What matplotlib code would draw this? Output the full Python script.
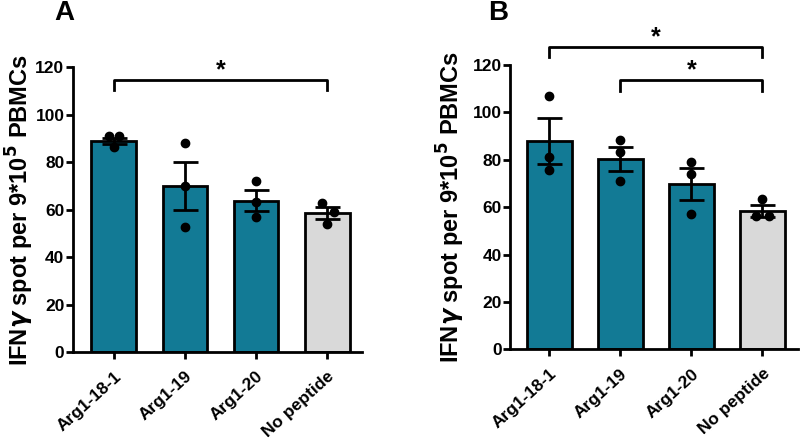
import matplotlib
matplotlib.use("Agg")
import matplotlib.pyplot as plt
import numpy as np

plt.rcParams['font.family'] = ['Liberation Sans', 'DejaVu Sans']
plt.rcParams['font.weight'] = 'bold'

categories = ["Arg1-18-1", "Arg1-19", "Arg1-20", "No peptide"]

# Panel A
a_means = [89.0, 70.0, 63.8, 58.5]
a_sem = [1.2, 10.0, 4.3, 2.5]
a_points = [[91.0, 91.0, 86.5], [88.0, 70.0, 52.7], [72.0, 63.3, 57.0], [62.9, 59.1, 53.8]]

# Panel B
b_means = [87.8, 80.4, 69.8, 58.5]
b_sem = [9.6, 5.1, 6.7, 2.5]
b_points = [[106.9, 81.3, 75.7], [88.3, 83.1, 71.0], [78.9, 74.0, 57.1], [63.3, 56.2, 56.2]]

# styling / jitter (not data)
a_jit = [[-0.07, 0.07, 0.0], [0, 0, 0], [0, 0, 0], [-0.07, 0.09, 0.0]]
b_jit = [[0, 0, 0], [0, 0, 0], [0, 0, 0], [0.0, -0.09, 0.09]]

bar_colors = ["#127a95", "#127a95", "#127a95", "#d9d9d9"]

fig = plt.figure(figsize=(8, 4.44), dpi=100)
axA = fig.add_axes([0.091, 0.207, 0.3615, 0.642])
axB = fig.add_axes([0.6375, 0.213, 0.36, 0.641])


def draw(ax, means, sem, pts, jit, brackets, xlim, labx):
    x = np.arange(len(categories))
    ax.bar(x, means, width=0.63, color=bar_colors, edgecolor='black', linewidth=2, zorder=2)
    for i in range(len(categories)):
        ax.plot(np.array(jit[i]) + x[i], pts[i], 'o', color='black', ms=6, zorder=4)
    ax.errorbar(x, means, yerr=sem, fmt='none', ecolor='black', elinewidth=2,
                capsize=9, capthick=2, zorder=5)
    ax.set_ylim(0, 120)
    ax.set_xlim(*xlim)
    ax.set_yticks([0, 20, 40, 60, 80, 100, 120])
    ax.set_xticks(x)
    ax.set_xticklabels(categories, rotation=42, ha='right', rotation_mode='anchor')
    for s in ['top', 'right']:
        ax.spines[s].set_visible(False)
    for s in ['left', 'bottom']:
        ax.spines[s].set_linewidth(2)
    ax.tick_params(width=2, length=5)
    ax.tick_params(axis='y', pad=1)
    ax.tick_params(axis='x', pad=7)
    for lab in ax.get_xticklabels() + ax.get_yticklabels():
        lab.set_fontweight('bold')
        lab.set_fontsize(12.5)
    ax.set_ylabel(r"IFN$\gamma$ spot per 9*10$^5$ PBMCs", fontsize=17, fontweight='bold',
                  va='center')
    ax.yaxis.set_label_coords(labx, 0.5)
    for (i, j, ytop, ydrop, ystar) in brackets:
        ax.plot([i, i, j, j], [ydrop, ytop, ytop, ydrop], color='black', lw=2, clip_on=False)
        ax.text((i + j) / 2, ystar, "*", ha='center', va='center', fontsize=18,
                fontweight='bold', clip_on=False)


draw(axA, a_means, a_sem, a_points, a_jit, [(0, 3, 114.5, 110.5, 118.5)], (-0.577, 3.49), -0.182)
draw(axB, b_means, b_sem, b_points, b_jit,
     [(0, 3, 127.4, 123.2, 131.5), (1, 3, 113.6, 109.1, 117.5)], (-0.55, 3.5), -0.205)

fig.text(64 / 800, 1 - 13 / 444, "A", fontsize=20, fontweight='bold', ha='center', va='center')
fig.text(498 / 800, 1 - 13 / 444, "B", fontsize=20, fontweight='bold', ha='center', va='center')

fig.savefig("out.png", dpi=100)
